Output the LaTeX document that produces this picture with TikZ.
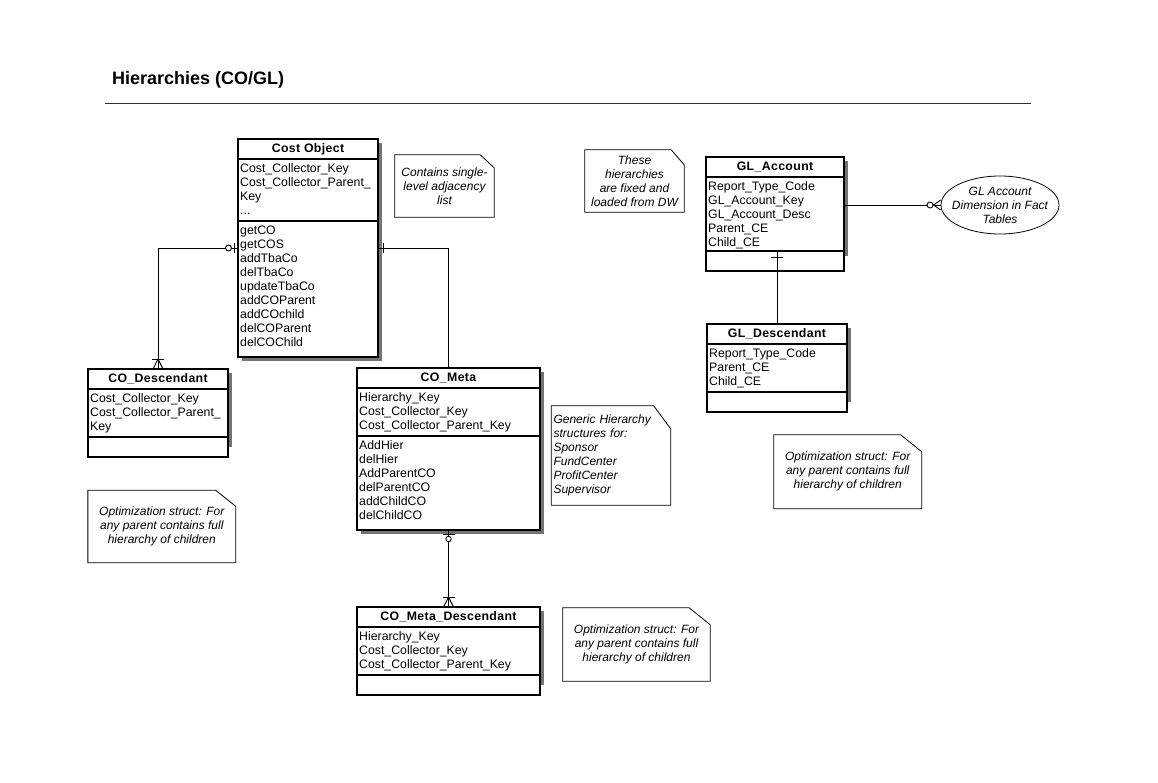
\documentclass[tikz,border=0pt]{standalone}
\usepackage{fontspec}
\setmainfont{Liberation Sans}
\newfontfamily\hdrfont[LetterSpace=3]{Liberation Sans}
\usetikzlibrary{shapes.geometric}

\begin{document}
\begin{tikzpicture}[x=1pt, y=-1pt,
  hdr/.style={draw, line width=1.8pt, fill=white, anchor=north west, inner sep=0pt, outer sep=0pt,
    minimum height=20pt, font=\hdrfont\bfseries\fontsize{12.3}{14}\selectfont},
  cmp/.style={draw, line width=1.8pt, fill=white, anchor=north west, inner sep=0pt, outer sep=0pt},
  members/.style={anchor=base west, inner sep=0pt, text width=180pt, align=left,
    font=\fontsize{12.3}{14}\selectfont},
  note/.style={inner sep=0pt, align=center, font=\itshape\fontsize{12}{14}\selectfont},
  noteline/.style={line width=0.8pt},
  conn/.style={line width=0.9pt},
  boxshadow/.style={fill=black!55}]
\fill[white] (0,0) rectangle (1158,782);
\useasboundingbox (0,0) rectangle (1158,782);

% title
\node[anchor=base west, inner sep=0pt, font=\bfseries\fontsize{18}{22}\selectfont] (title) at (112,84.3) {Hierarchies (CO/GL)};
\draw[line width=1.6pt, black!80] (105,103.3) -- (1031,103.3);

% shadows
\fill[boxshadow] (242,143) rectangle (382,361);
\fill[boxshadow] (92,373) rectangle (232,447);
\fill[boxshadow] (361,372) rectangle (544,534);
\fill[boxshadow] (361,611) rectangle (544,685);
\fill[boxshadow] (710,161) rectangle (848,256);
\fill[boxshadow] (711,328) rectangle (851,402);

% Cost Object
\node[hdr, minimum width=140pt] (co) at (238,139) {Cost Object};
\node[cmp, minimum width=140pt, minimum height=62pt] (coA) at (co.south west) {};
\node[cmp, minimum width=140pt, minimum height=136pt] (coM) at (coA.south west) {};
\node[members] (coAt) at ([xshift=2pt,yshift=-13pt]coA.north west) {Cost\_Collector\_Key\\Cost\_Collector\_Parent\_\\Key\\...};
\node[members] (coMt) at ([xshift=2pt,yshift=-13pt]coM.north west) {getCO\\getCOS\\addTbaCo\\delTbaCo\\updateTbaCo\\addCOParent\\addCOchild\\delCOParent\\delCOChild};

% CO_Descendant
\node[hdr, minimum width=140pt] (cod) at (88,369) {CO\_Descendant};
\node[cmp, minimum width=140pt, minimum height=48pt] (codA) at (cod.south west) {};
\node[cmp, minimum width=140pt, minimum height=20pt] (codM) at (codA.south west) {};
\node[members] (codAt) at ([xshift=2pt,yshift=-13pt]codA.north west) {Cost\_Collector\_Key\\Cost\_Collector\_Parent\_\\Key};

% CO_Meta
\node[hdr, minimum width=183pt] (com) at (357,368) {CO\_Meta};
\node[cmp, minimum width=183pt, minimum height=48pt] (comA) at (com.south west) {};
\node[cmp, minimum width=183pt, minimum height=94pt] (comM) at (comA.south west) {};
\node[members] (comAt) at ([xshift=2pt,yshift=-13pt]comA.north west) {Hierarchy\_Key\\Cost\_Collector\_Key\\Cost\_Collector\_Parent\_Key};
\node[members] (comMt) at ([xshift=2pt,yshift=-13pt]comM.north west) {AddHier\\delHier\\AddParentCO\\delParentCO\\addChildCO\\delChildCO};

% CO_Meta_Descendant
\node[hdr, minimum width=183pt] (comd) at (357,607) {CO\_Meta\_Descendant};
\node[cmp, minimum width=183pt, minimum height=48pt] (comdA) at (comd.south west) {};
\node[cmp, minimum width=183pt, minimum height=20pt] (comdM) at (comdA.south west) {};
\node[members] (comdAt) at ([xshift=2pt,yshift=-13pt]comdA.north west) {Hierarchy\_Key\\Cost\_Collector\_Key\\Cost\_Collector\_Parent\_Key};

% GL_Account
\node[hdr, minimum width=138pt] (gla) at (706,157) {GL\_Account};
\node[cmp, minimum width=138pt, minimum height=74pt] (glaA) at (gla.south west) {};
\node[cmp, minimum width=138pt, minimum height=20pt] (glaM) at (glaA.south west) {};
\node[members] (glaAt) at ([xshift=2pt,yshift=-13pt]glaA.north west) {Report\_Type\_Code\\GL\_Account\_Key\\GL\_Account\_Desc\\Parent\_CE\\Child\_CE};

% GL_Descendant
\node[hdr, minimum width=140pt] (gld) at (707,324) {GL\_Descendant};
\node[cmp, minimum width=140pt, minimum height=48pt] (gldA) at (gld.south west) {};
\node[cmp, minimum width=140pt, minimum height=20pt] (gldM) at (gldA.south west) {};
\node[members] (gldAt) at ([xshift=2pt,yshift=-13pt]gldA.north west) {Report\_Type\_Code\\Parent\_CE\\Child\_CE};

% fact table dimension
\node[draw, ellipse, line width=0.8pt, minimum width=118pt, minimum height=58pt] (gldim) at (1000,205) {};
\node[note] (gldimt) at (gldim.center) {GL Account\\Dimension in Fact\\Tables};

% notes
\node[note, minimum width=99pt, minimum height=62pt] (n1) at (444.5,186) {Contains single-\\level adjacency\\list};
\draw[noteline] (n1.south west) -- (n1.north west) -- ([xshift=-14pt]n1.north east) -- ([yshift=-13pt]n1.north east) -- (n1.south east) -- cycle;
\node[note, minimum width=99pt, minimum height=62pt] (n2) at (634.5,181) {These\\hierarchies\\are fixed and\\loaded from DW};
\draw[noteline] (n2.south west) -- (n2.north west) -- ([xshift=-13pt]n2.north east) -- ([yshift=-15pt]n2.north east) -- (n2.south east) -- cycle;
\node[note, text width=115pt, align=left, minimum width=119pt, minimum height=99pt] (n3) at (611,455.5) {Generic Hierarchy\\structures for:\\Sponsor\\FundCenter\\ProfitCenter\\Supervisor};
\draw[noteline] (n3.south west) -- (n3.north west) -- ([xshift=-17pt]n3.north east) -- ([yshift=-23pt]n3.north east) -- (n3.south east) -- cycle;
\node[note, minimum width=147.5pt, minimum height=72pt] (n4) at (161.8,526.5) {Optimization struct: For\\any parent contains full\\hierarchy of children};
\draw[noteline] (n4.south west) -- (n4.north west) -- ([xshift=-20pt]n4.north east) -- ([yshift=-16pt]n4.north east) -- (n4.south east) -- cycle;
\node[note, minimum width=147pt, minimum height=73pt] (n5) at (636.5,644.5) {Optimization struct: For\\any parent contains full\\hierarchy of children};
\draw[noteline] (n5.south west) -- (n5.north west) -- ([xshift=-21pt]n5.north east) -- ([yshift=-17pt]n5.north east) -- (n5.south east) -- cycle;
\node[note, minimum width=147.5pt, minimum height=73.5pt] (n6) at (847.7,471.7) {Optimization struct: For\\any parent contains full\\hierarchy of children};
\draw[noteline] (n6.south west) -- (n6.north west) -- ([xshift=-21pt]n6.north east) -- ([yshift=-17pt]n6.north east) -- (n6.south east) -- cycle;

% Cost Object -- CO_Descendant
\coordinate (c1) at ([yshift=-27pt]coM.north west);
\draw[conn] (c1) -| (cod.north);
\draw[conn] ([xshift=-4pt,yshift=5pt]c1) -- ([xshift=-4pt,yshift=-5pt]c1);
\draw[conn, fill=white] ([xshift=-9.5pt]c1) circle (3pt);
\draw[conn] ([xshift=-6pt,yshift=10pt]cod.north) -- ([xshift=6pt,yshift=10pt]cod.north);
\draw[conn] ([xshift=-5pt]cod.north) -- ([yshift=10pt]cod.north) -- ([xshift=5pt]cod.north);

% Cost Object -- CO_Meta
\coordinate (c2) at ([yshift=-27pt]coM.north east);
\draw[conn] (c2) -| (com.north);
\draw[conn] ([xshift=5pt,yshift=5pt]c2) -- ([xshift=5pt,yshift=-5pt]c2);

% CO_Meta -- CO_Meta_Descendant
\draw[conn] (comM.south) -- (comd.north);
\draw[conn] ([xshift=-6pt,yshift=-4pt]comM.south) -- ([xshift=6pt,yshift=-4pt]comM.south);
\draw[conn, fill=white] ([yshift=-9pt]comM.south) circle (2.7pt);
\draw[conn] ([xshift=-6pt,yshift=10pt]comd.north) -- ([xshift=6pt,yshift=10pt]comd.north);
\draw[conn] ([xshift=-5pt]comd.north) -- ([yshift=10pt]comd.north) -- ([xshift=5pt]comd.north);

% GL_Account -- GL_Descendant
\coordinate (c4) at (glaM.north -| gld.north);
\draw[conn] (c4) -- (gld.north);
\draw[conn] ([xshift=-6pt,yshift=-6pt]c4) -- ([xshift=6pt,yshift=-6pt]c4);

% GL_Account -- dimension
\coordinate (c5) at ([yshift=-28pt]glaA.north east);
\coordinate (c6) at (c5 -| gldim.west);
\draw[conn] (c5) -- (c6);
\draw[conn, fill=white] ([xshift=-10.5pt]c6) circle (3pt);
\draw[conn] ([yshift=5pt]c6) -- ([xshift=-7pt]c6) -- ([yshift=-5pt]c6);

\end{tikzpicture}
\end{document}
